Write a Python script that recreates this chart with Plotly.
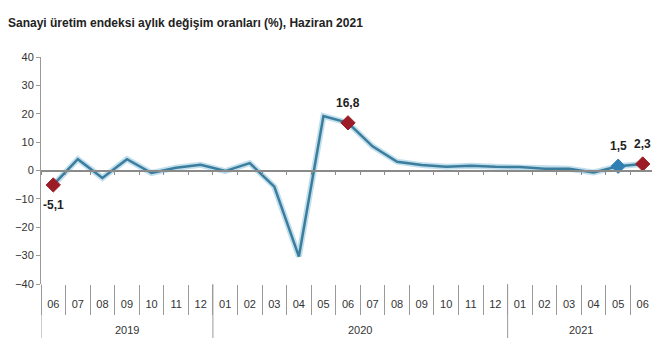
import plotly.graph_objects as go
from itertools import groupby

years = ["2019"] * 7 + ["2020"] * 12 + ["2021"] * 6
months = ["06", "07", "08", "09", "10", "11", "12",
          "01", "02", "03", "04", "05", "06", "07", "08", "09", "10", "11", "12",
          "01", "02", "03", "04", "05", "06"]
values = [-5.1, 4.0, -2.6, 4.0, -0.9, 1.0, 2.0,
          -0.2, 2.6, -5.7, -30.3, 19.2, 16.8, 8.5, 3.1, 1.9, 1.3, 1.7, 1.3,
          1.2, 0.6, 0.6, -0.7, 1.5, 2.3]

red_idx = [0, 12, 24]
blue_idx = [23]
label_below = {0: True, 12: False, 23: False, 24: False}

FONT = "Liberation Sans, Arial, sans-serif"
LINE = "#3b7d9c"
GLOW = "rgba(120,185,215,0.45)"
RED = "#9b1c26"
BLUE = "#2f7fb5"
GRID = "#9a9a9a"

n = len(values)
cats = [f"{y}-{m}" for y, m in zip(years, months)]
sizes = [11 if (i in red_idx or i in blue_idx) else 0 for i in range(n)]
colors = [RED if i in red_idx else (BLUE if i in blue_idx else LINE) for i in range(n)]

fig = go.Figure()
fig.add_trace(go.Scatter(x=cats, y=values, mode="lines",
                         line=dict(color=GLOW, width=6), hoverinfo="skip", showlegend=False))
fig.add_trace(go.Scatter(x=cats, y=values, mode="lines+markers",
                         line=dict(color=LINE, width=2.5),
                         marker=dict(symbol="diamond", size=sizes, color=colors, opacity=1,
                                     line=dict(width=1, color=colors)),
                         showlegend=False))
# helper axis at y=0 carrying the small boundary ticks
fig.add_trace(go.Scatter(x=cats, y=[0] * n, xaxis="x2", mode="markers",
                         marker=dict(opacity=0), hoverinfo="skip", showlegend=False))

# data labels
for i, below in label_below.items():
    fig.add_annotation(x=cats[i], y=values[i], xref="x", yref="y",
                       text="<b>" + f"{values[i]:.1f}".replace(".", ",") + "</b>",
                       showarrow=False, yshift=-20 if below else 20,
                       font=dict(family=FONT, size=12, color="#222"))

# year groups: labels centred under each group, long dividers at the group edges
start = 0
bounds = [-0.5]
for yr, grp in groupby(years):
    cnt = len(list(grp))
    fig.add_annotation(x=start + (cnt - 1) / 2, xref="x", y=-0.203, yref="paper",
                       text=yr, showarrow=False, yanchor="middle",
                       font=dict(family=FONT, size=11, color="#333"))
    start += cnt
    bounds.append(start - 0.5)
for b in bounds:
    fig.add_shape(type="line", xref="x", yref="paper", x0=b, x1=b, y0=0, y1=-0.238,
                  line=dict(color=GRID, width=1))

fig.update_layout(
    width=652, height=352,
    margin=dict(l=33, r=5, t=49, b=76),
    paper_bgcolor="white", plot_bgcolor="white",
    title=dict(text="<b>Sanayi üretim endeksi aylık değişim oranları (%), Haziran 2021</b>",
               x=0.0, xanchor="left", y=0.957, yanchor="middle",
               font=dict(family=FONT, size=12, color="#222")),
    font=dict(family=FONT, size=11, color="#333"),
    xaxis=dict(type="category", range=[-0.5, n - 0.5], showgrid=False, showline=False,
               zeroline=False, tickmode="array", tickvals=cats, ticktext=months,
               ticks="outside", tickson="boundaries", ticklen=30, tickcolor=GRID,
               tickwidth=1, tickangle=0, ticklabelstandoff=12,
               tickfont=dict(family=FONT, size=11, color="#333")),
    xaxis2=dict(type="category", overlaying="x", anchor="free", position=0.5,
                range=[-0.5, n - 0.5], showticklabels=False,
                ticks="outside", tickson="boundaries", ticklen=4, tickcolor="#8a8a8a",
                showline=True, linecolor="#8a8a8a", linewidth=1.5, showgrid=False),
    yaxis=dict(range=[-40, 40], dtick=10, showgrid=False, zeroline=False,
               showline=True, linecolor=GRID, linewidth=1,
               ticks="outside", ticklen=4, tickcolor=GRID,
               tickfont=dict(family=FONT, size=11, color="#333")),
)

fig.write_html("out.html")
